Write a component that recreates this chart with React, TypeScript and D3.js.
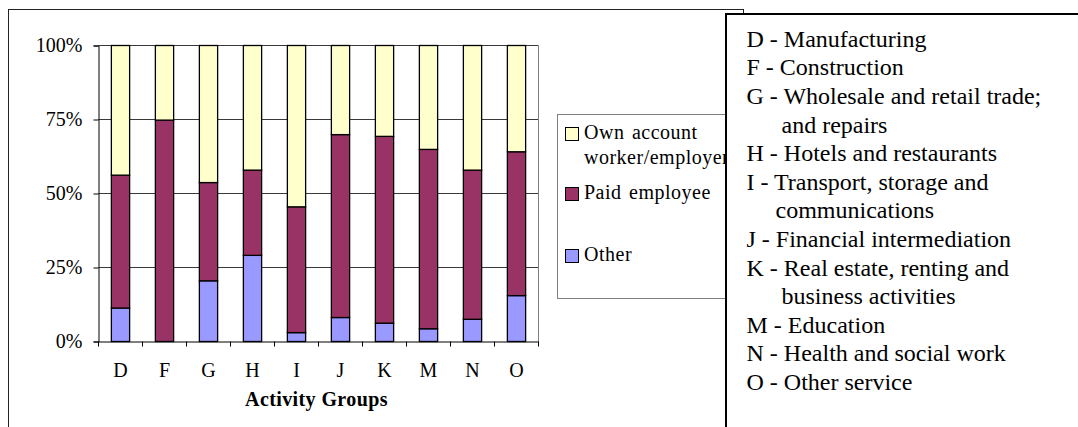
import React, { useEffect, useRef } from 'react'
import * as d3 from 'd3'

// Activity groups (x categories)
const groups = ['D', 'F', 'G', 'H', 'I', 'J', 'K', 'M', 'N', 'O']

// Shares in percent, stacked bottom to top: Other, Paid employee, Own account
const other = [11.3, 0, 20.5, 29.1, 3.0, 8.1, 6.2, 4.3, 7.5, 15.5]
const paid = [44.9, 74.8, 33.2, 28.8, 42.5, 61.8, 63.1, 60.6, 50.4, 48.6]
const own = [43.8, 25.2, 46.3, 42.1, 54.5, 30.1, 30.7, 35.1, 42.1, 35.9]

const seriesColors = ['#9999FF', '#993366', '#FFFFCC']

const yTicks = [0, 25, 50, 75, 100]

// Legend entries (top to bottom), split into lines as drawn
const legendItems = [
  { lines: ['Own account', 'worker/employer'], color: '#FFFFCC' },
  { lines: ['Paid employee'], color: '#993366' },
  { lines: ['Other'], color: '#9999FF' }
]

// Key to the activity group letters
const keyLines = [
  { text: 'D - Manufacturing', indent: 0 },
  { text: 'F - Construction', indent: 0 },
  { text: 'G - Wholesale and retail trade;', indent: 0 },
  { text: 'and repairs', indent: 35 },
  { text: 'H - Hotels and restaurants', indent: 0 },
  { text: 'I - Transport, storage and', indent: 0 },
  { text: 'communications', indent: 29 },
  { text: 'J - Financial intermediation', indent: 0 },
  { text: 'K - Real estate, renting and', indent: 0 },
  { text: 'business activities', indent: 35 },
  { text: 'M - Education', indent: 0 },
  { text: 'N - Health and social work', indent: 0 },
  { text: 'O - Other service', indent: 0 }
]

const font = 'Liberation Serif, Times New Roman, serif'

function App() {
  const ref = useRef<SVGSVGElement>(null)

  useEffect(() => {
    if (!ref.current) return
    const svg = d3.select(ref.current)
    svg.selectAll('*').remove()

    // outer chart frame
    svg.append('rect')
      .attr('x', 8.5).attr('y', 9.5)
      .attr('width', 735).attr('height', 440)
      .attr('fill', '#fff').attr('stroke', '#222').attr('stroke-width', 1)

    const plot = { left: 98.5, top: 45.5, right: 538.5, bottom: 341.5 }

    const x = d3.scaleBand()
      .domain(groups)
      .range([plot.left, plot.right])
      .paddingInner(0.585)
      .paddingOuter(0.2925)

    const y = d3.scaleLinear()
      .domain([0, 100])
      .range([plot.bottom, plot.top])

    // gridlines
    svg.append('g')
      .selectAll('line')
      .data(yTicks.filter(t => t > 0))
      .join('line')
        .attr('x1', plot.left).attr('x2', plot.right)
        .attr('y1', d => y(d)).attr('y2', d => y(d))
        .attr('stroke', '#3a3a3a').attr('stroke-width', 1)

    // plot area right border
    svg.append('line')
      .attr('x1', plot.right).attr('x2', plot.right)
      .attr('y1', plot.top).attr('y2', plot.bottom)
      .attr('stroke', '#808080')

    // stacked bars
    const rows = groups.map((g, i) => ({ g, s0: other[i], s1: paid[i], s2: own[i] }))
    const stack = d3.stack<any>().keys(['s0', 's1', 's2'])(rows)

    svg.append('g')
      .selectAll('g')
      .data(stack)
      .join('g')
        .attr('fill', (_, i) => seriesColors[i])
      .selectAll('rect')
      .data(d => d.filter(v => v[1] - v[0] > 0))
      .join('rect')
        .attr('x', d => x(d.data.g)!)
        .attr('y', d => y(d[1]))
        .attr('width', x.bandwidth())
        .attr('height', d => y(d[0]) - y(d[1]))
        .attr('stroke', '#000')
        .attr('stroke-width', 1.3)

    // y axis
    const yAxis = svg.append('g')
      .attr('transform', `translate(${plot.left},0)`)
      .call(d3.axisLeft(y).tickValues(yTicks).tickFormat(d => `${d}%`).tickSize(5).tickPadding(11))
    yAxis.select('.domain').attr('stroke', '#000')
    yAxis.selectAll('.tick line').attr('stroke', '#000')
    yAxis.selectAll('text')
      .attr('font-family', font).attr('font-size', 20).attr('fill', '#000')

    // x axis with ticks at the category boundaries
    const xAxis = svg.append('g')
      .attr('transform', `translate(0,${plot.bottom})`)
      .call(d3.axisBottom(x).tickSize(0).tickPadding(21))
    xAxis.select('.domain').attr('stroke', '#000')
    xAxis.selectAll('text')
      .attr('font-family', font).attr('font-size', 20).attr('fill', '#000')
    const step = x.step()
    svg.append('g')
      .selectAll('line')
      .data(d3.range(groups.length + 1))
      .join('line')
        .attr('x1', i => plot.left + i * step).attr('x2', i => plot.left + i * step)
        .attr('y1', plot.bottom).attr('y2', plot.bottom + 5)
        .attr('stroke', '#000')

    // axis title
    svg.append('text')
      .attr('x', (plot.left + plot.right) / 2 - 2).attr('y', 406)
      .attr('text-anchor', 'middle')
      .attr('font-family', font)
      .attr('font-size', 20).attr('font-weight', 'bold')
      .attr('letter-spacing', 0.4)
      .text('Activity Groups')

    // legend
    const legend = svg.append('g')
    legend.append('rect')
      .attr('x', 557.5).attr('y', 114.5)
      .attr('width', 180).attr('height', 184)
      .attr('fill', '#fff').attr('stroke', '#808080')
    const legendY = [127.5, 187.5, 249.5]
    legendItems.forEach((item, i) => {
      legend.append('rect')
        .attr('x', 565.5).attr('y', legendY[i])
        .attr('width', 13).attr('height', 13)
        .attr('fill', item.color).attr('stroke', '#000')
      item.lines.forEach((line, j) => {
        legend.append('text')
          .attr('x', 584).attr('y', legendY[i] + 11.5 + j * 24.5)
          .attr('font-family', font)
          .attr('font-size', 20)
          .attr('letter-spacing', 0.5)
          .attr('word-spacing', 2)
          .text(line)
      })
    })

    // key box on the right
    svg.append('rect')
      .attr('x', 726).attr('y', 14)
      .attr('width', 400).attr('height', 460)
      .attr('fill', '#fff').attr('stroke', '#000').attr('stroke-width', 2)
    svg.append('g')
      .selectAll('text')
      .data(keyLines)
      .join('text')
        .attr('x', d => 746.5 + d.indent)
        .attr('y', (_, i) => 46.7 + i * 28.6)
        .attr('font-family', font)
        .attr('font-size', 24)
        .text(d => d.text)
  }, [])

  return (
    <svg
      ref={ref}
      width={1078}
      height={427}
      style={{ position: 'absolute', left: 0, top: 0, display: 'block', background: '#fff' }}
    />
  )
}

export default App
